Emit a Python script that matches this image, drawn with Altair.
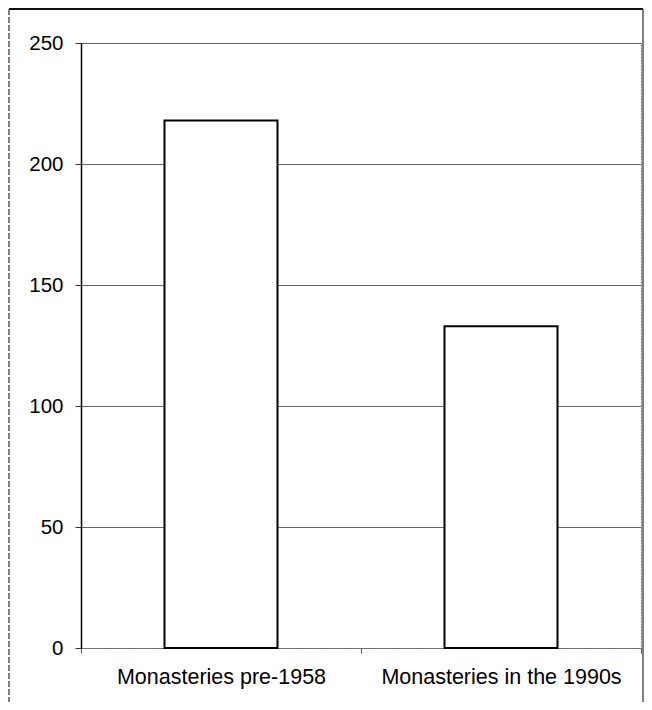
import altair as alt
import pandas as pd

categories = ["Monasteries pre-1958", "Monasteries in the 1990s"]
values = [218, 133]

df = pd.DataFrame({"category": categories, "value": values})

FONT = "Liberation Sans"
W, H = 560, 605
PL, PT, PR, PB = 73, 35, 3, 54

bars = alt.Chart(df).mark_bar(
    size=113, fill="white", stroke="black", strokeWidth=2
).encode(
    x=alt.X("category:N", sort=categories, title=None,
            scale=alt.Scale(paddingInner=0, paddingOuter=0),
            axis=alt.Axis(labelAngle=0, tickBand="extent", labelFont=FONT,
                          labelFontSize=21.5, labelColor="black", labelPadding=13,
                          labelLimit=0,
                          tickSize=5, tickColor="#555", domainColor="#777",
                          domainDash=[2, 1], grid=False)),
    y=alt.Y("value:Q", title=None,
            scale=alt.Scale(domain=[0, 250], nice=False),
            axis=alt.Axis(values=[0, 50, 100, 150, 200, 250], labelFont=FONT,
                          labelFontSize=20.5, labelColor="black", labelPadding=12,
                          tickSize=6, tickColor="#333", domainColor="black",
                          domainWidth=1.5, grid=True, gridColor="#666",
                          gridWidth=1)),
)

frame_top = alt.Chart(df).mark_rule(color="black", strokeWidth=1.5, clip=False).encode(
    x=alt.value(-PL + 1), x2=alt.value(W + PR - 1), y=alt.value(-PT + 1))
frame_left = alt.Chart(df).mark_rule(color="#555", strokeWidth=1, strokeDash=[6, 2], clip=False).encode(
    x=alt.value(-PL + 1), y=alt.value(-PT + 1), y2=alt.value(H + PB))
frame_right = alt.Chart(df).mark_rule(color="#555", strokeWidth=1, clip=False).encode(
    x=alt.value(W + PR - 1), y=alt.value(-PT + 1), y2=alt.value(H + PB))

chart = alt.layer(bars, frame_top, frame_left, frame_right).properties(
    width=W, height=H,
    padding={"left": PL, "top": PT, "right": PR, "bottom": PB},
    autosize=alt.AutoSizeParams(type="none"),
    background="white",
).configure_view(
    stroke="#777", strokeDash=[2, 1], strokeWidth=1
)

chart.save("out.html", embed_options={"renderer": "svg", "actions": False})
